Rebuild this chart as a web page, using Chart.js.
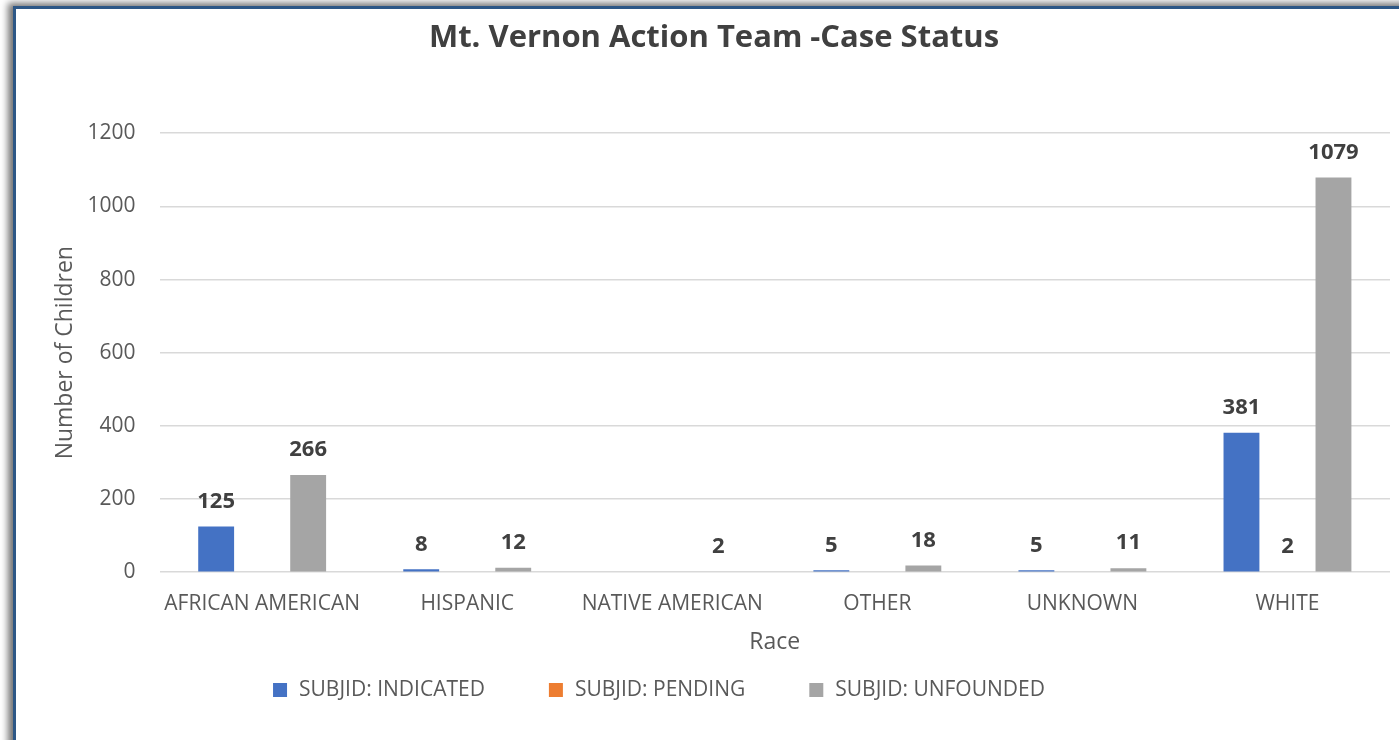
<!DOCTYPE html>
<html>
<head>
<meta charset="utf-8">
<script src="https://cdn.jsdelivr.net/npm/chart.js@4/dist/chart.umd.min.js"></script>
<style>
  html, body { margin: 0; padding: 0; background: #ffffff; overflow: hidden; }
  .frame {
    position: absolute; left: 13px; top: 6px; width: 1400px; height: 750px;
    border-left: 3px solid #2d5786; border-top: 3px solid #2d5786;
    box-shadow: -5px -3px 7px rgba(0, 0, 0, 0.55);
    background: #ffffff;
  }
  .wrap { position: absolute; left: 0; top: 0; width: 1399px; height: 740px; }
</style>
</head>
<body>
<div class="frame"></div>
<div class="wrap"><canvas id="caseChart"></canvas></div>
<script>
const raceLabels = ['AFRICAN AMERICAN', 'HISPANIC', 'NATIVE AMERICAN', 'OTHER', 'UNKNOWN', 'WHITE'];
const indicatedCounts = [125, 8, null, 5, 5, 381];
const pendingCounts = [null, null, null, null, null, 2];
const unfoundedCounts = [266, 12, 2, 18, 11, 1079];
const yTicks = [0, 200, 400, 600, 800, 1000, 1200];

const FONT = "'Open Sans', sans-serif";
Chart.defaults.font.family = FONT;
Chart.defaults.color = '#595959';

// value above each bar, like Excel's "outside end" data labels
const barValueLabels = {
    id: 'barValueLabels',
    afterDatasetsDraw(chart) {
        const ctx = chart.ctx;
        ctx.save();
        ctx.font = `bold 22px ${FONT}`;
        ctx.fillStyle = '#404040';
        ctx.textAlign = 'center';
        ctx.textBaseline = 'middle';
        chart.data.datasets.forEach((ds, i) => {
            const meta = chart.getDatasetMeta(i);
            meta.data.forEach((bar, j) => {
                const v = ds.data[j];
                if (v === null || v === undefined) return;
                ctx.fillText(String(v), bar.x, bar.y - 25);
            });
        });
        ctx.restore();
    }
};

// Excel-style legend row: wider gaps between entries than the built-in legend allows
const legendRow = {
    id: 'legendRow',
    afterDraw(chart, args, opts) {
        const ctx = chart.ctx;
        const box = 14, gap = 12, spacing = 64;
        ctx.save();
        ctx.font = `21px ${FONT}`;
        const items = chart.data.datasets.map(ds => ({
            text: ds.label,
            color: ds.backgroundColor,
            w: ctx.measureText(ds.label).width
        }));
        const total = items.reduce((s, it) => s + box + gap + it.w, 0) + spacing * (items.length - 1);
        let x = opts.centerX - total / 2;
        const y = opts.y;
        ctx.textBaseline = 'middle';
        ctx.textAlign = 'left';
        items.forEach(it => {
            ctx.fillStyle = it.color;
            ctx.fillRect(x, y - box / 2, box, box);
            ctx.fillStyle = '#595959';
            ctx.fillText(it.text, x + box + gap, y);
            x += box + gap + it.w + spacing;
        });
        ctx.restore();
    }
};

new Chart(document.getElementById('caseChart'), {
    type: 'bar',
    data: {
        labels: raceLabels,
        datasets: [
            { label: 'SUBJID: INDICATED', data: indicatedCounts, backgroundColor: '#4472C4' },
            { label: 'SUBJID: PENDING', data: pendingCounts, backgroundColor: '#ED7D31' },
            { label: 'SUBJID: UNFOUNDED', data: unfoundedCounts, backgroundColor: '#A5A5A5' }
        ]
    },
    options: {
        responsive: true,
        maintainAspectRatio: false,
        animation: false,
        categoryPercentage: 0.673,
        barPercentage: 0.78,
        layout: { padding: { left: 38, right: 9, top: 0, bottom: 84 } },
        plugins: {
            title: {
                display: true,
                text: 'Mt. Vernon Action Team -Case Status',
                color: '#404040',
                font: { size: 31, weight: 'bold' },
                padding: { top: 20, bottom: 76 }
            },
            legend: { display: false },
            legendRow: { centerX: 659, y: 690 },
            tooltip: { enabled: false }
        },
        scales: {
            x: {
                // tick length (not drawn) gives the label gap without padding the sides
                grid: { display: false, drawTicks: true, tickLength: 19 },
                border: { display: false },
                ticks: { color: '#595959', font: { size: 21 }, padding: 0, maxRotation: 0, minRotation: 0, autoSkip: false },
                title: { display: true, text: 'Race', color: '#595959', font: { size: 23 }, padding: { top: 12, bottom: 0 } }
            },
            y: {
                min: 0,
                max: 1200,
                afterBuildTicks(axis) { axis.ticks = yTicks.map(v => ({ value: v })); },
                grid: { color: '#d9d9d9', lineWidth: 1.5, drawTicks: true, tickLength: 24, tickColor: 'rgba(0,0,0,0)' },
                border: { display: false },
                ticks: { color: '#595959', font: { size: 21 }, padding: 0, callback: v => String(v) },
                title: { display: true, text: 'Number of Children', color: '#595959', font: { size: 23 }, padding: { top: 14, bottom: 8 } }
            }
        }
    },
    plugins: [barValueLabels, legendRow]
});
</script>
</body>
</html>
